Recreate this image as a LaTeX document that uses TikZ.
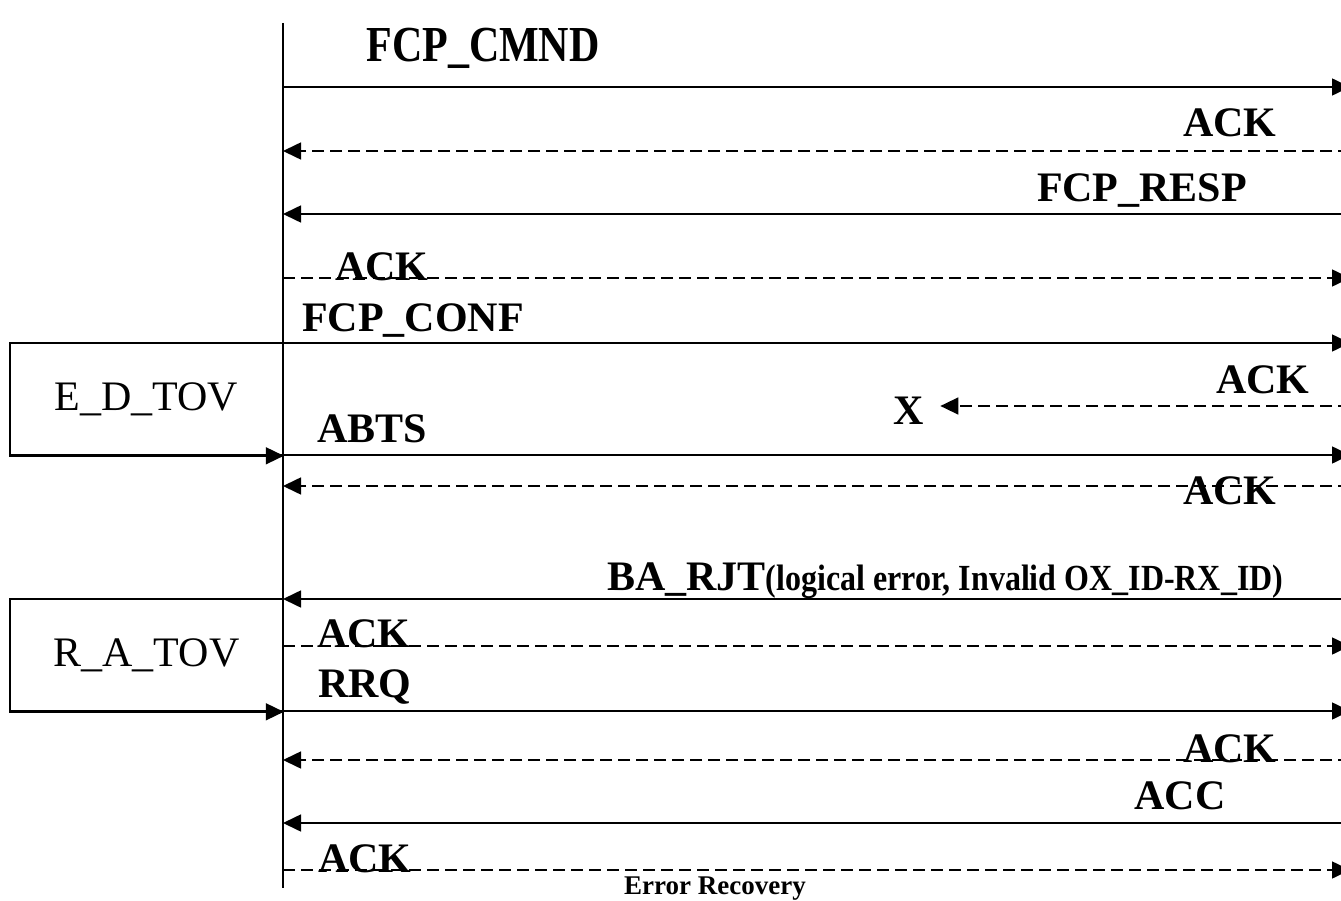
\documentclass[tikz,border=0pt]{standalone}
\usepackage{fontspec}
\setmainfont{Liberation Serif}
\usetikzlibrary{arrows.meta}
\tikzset{
  sig/.style    = {line width=1.6pt, -{Triangle[length=18pt,width=17pt]}},
  ackline/.style= {sig, dash pattern=on 12pt off 6pt},
  lbl/.style    = {inner sep=0, anchor=base, font=\bfseries\fontsize{42}{42}\selectfont},
  tovbox/.style = {rectangle, draw, line width=1.6pt, minimum width=273pt, minimum height=112pt, font=\fontsize{42}{42}\selectfont}
}

\begin{document}
\begin{tikzpicture}[x=1pt,y=-1pt]
  \useasboundingbox (0,0) rectangle (1341,901);

  % time line of the initiator
  \coordinate (top) at (283,23); \coordinate (bot) at (283,888);
  \draw[line width=1.6pt] (top) -- (bot);
  \foreach \i/\y in {1/87,2/151,3/214,4/278,5/343,6/406,7/455,8/486,9/599,10/646,11/711,12/760,13/823,14/870}{
    \coordinate (l\i) at (283,\y); \coordinate (r\i) at (1350,\y);
  }

  % timers
  \node[tovbox] (edtov) at (146.5,399) {E\_D\_TOV}; \draw[sig] (edtov.south west) -- (edtov.south east);
  \node[tovbox] (ratov) at (146.5,655) {R\_A\_TOV}; \draw[sig] (ratov.south west) -- (ratov.south east);

  % frames
  \node[lbl] (cmnd) at (483,62) {\scalebox{1}[1.2]{FCP\_CMND}}; \draw[sig] (l1) -- (r1);
  \node[lbl] (ack1) at (1230,137) {ACK};      \draw[ackline] (r2) -- (l2);
  \node[lbl] (resp) at (1142,202) {FCP\_RESP}; \draw[sig] (r3) -- (l3);
  \node[lbl] (ack2) at (382,280) {ACK};       \draw[ackline] (l4) -- (r4);
  \node[lbl] (conf) at (413,331) {FCP\_CONF}; \draw[sig] (l5) -- (r5);
  \node[lbl] (ack3) at (1263,393) {ACK};
  \node[lbl, inner xsep=16pt] (lost) at (909,424) {X}; \draw[ackline] (r6) -- (lost.east |- r6);
  \node[lbl] (abts) at (372,442) {ABTS};      \draw[sig] (l7) -- (r7);
  \node[lbl] (ack4) at (1230,504) {ACK};      \draw[ackline] (r8) -- (l8);
  \node[lbl, anchor=base west] (barjt) at (607,590)
    {BA\_RJT\scalebox{1}[1.15]{\fontsize{32}{32}\selectfont(logical error, Invalid OX\_ID-RX\_ID)}};
  \draw[sig] (r9) -- (l9);
  \node[lbl] (ack5) at (364,647) {ACK};       \draw[ackline] (l10) -- (r10);
  \node[lbl] (rrq)  at (365,697) {RRQ};       \draw[sig] (l11) -- (r11);
  \node[lbl] (ack6) at (1230,762) {ACK};      \draw[ackline] (r12) -- (l12);
  \node[lbl] (acc)  at (1180,809) {ACC};      \draw[sig] (r13) -- (l13);
  \node[lbl] (ack7) at (365,872) {ACK};       \draw[ackline] (l14) -- (r14);

  \node[lbl, font=\bfseries\fontsize{27}{27}\selectfont] (err) at (715,894) {Error Recovery};
\end{tikzpicture}
\end{document}
